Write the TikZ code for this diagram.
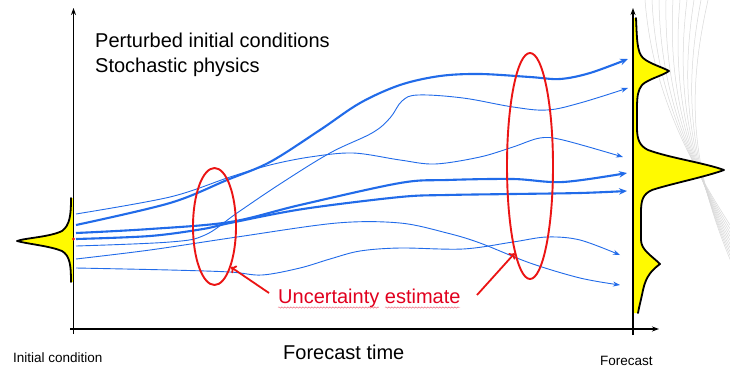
\documentclass[tikz,border=0pt]{standalone}
\usepackage{fontspec}
\setmainfont{Liberation Sans}
\usetikzlibrary{arrows.meta,shapes.geometric,decorations.pathmorphing}
\definecolor{trajblue}{RGB}{33,107,233}
\definecolor{ellred}{RGB}{235,20,20}
\definecolor{txtred}{RGB}{225,0,30}
\definecolor{pdfyellow}{RGB}{255,250,0}
\begin{document}
\begin{tikzpicture}[x=1pt,y=-1pt,
  axisline/.style={line width=1.7pt, -{Stealth[length=7pt,width=5pt]}},
  thintraj/.style={trajblue, line width=0.9pt, -{Stealth[length=7pt,width=5pt]}},
  thicktraj/.style={trajblue, line width=2.1pt, -{Stealth[length=8pt,width=6.5pt]}},
  pdfcurve/.style={line width=1.8pt, line join=round, line cap=round},
  uncell/.style={ellipse, draw=ellred, line width=1.9pt, inner sep=0pt},
  redarrow/.style={ellred, line width=1.8pt, -{To[length=5pt,width=9pt,line width=1.8pt]}},
  swoosh/.style={gray!30, line width=0.5pt},
  squiggle/.style={txtred!60, line width=0.45pt, decorate, decoration={snake, amplitude=0.7pt, segment length=3pt}}
]
\useasboundingbox (0,0) rectangle (730,383);
\fill[white] (0,0) rectangle (730,383);

% background swoosh (top right)
\foreach \i in {0,...,9}{
  \draw[swoosh] (645+7*\i,0) .. controls (652+4*\i,90) and (688,160) .. (732,228+4*\i);
}

% initial distribution
\fill[pdfyellow] (71,198) .. controls (71,215) and (70,225) .. (62,231)
  .. controls (50,237) and (25,238) .. (17,241)
  .. controls (28,244) and (50,246) .. (62,251)
  .. controls (70,256) and (71,265) .. (71,282) -- (73,282) -- (73,198) -- cycle;
\draw[pdfcurve] (71,198) .. controls (71,215) and (70,225) .. (62,231)
  .. controls (50,237) and (25,238) .. (17,241)
  .. controls (28,244) and (50,246) .. (62,251)
  .. controls (70,256) and (71,265) .. (71,282);

% forecast distribution
\fill[pdfyellow] (636,18) .. controls (637,40) and (637,52) .. (643,58)
  .. controls (650,64) and (662,67) .. (669,71)
  .. controls (662,76) and (648,79) .. (642,85)
  .. controls (638,90) and (637,96) .. (637,108)
  -- (637,128) .. controls (637,140) and (640,146) .. (648,150)
  .. controls (670,158) and (705,163) .. (724,170)
  .. controls (705,177) and (670,184) .. (652,190)
  .. controls (643,194) and (641,200) .. (641,212)
  -- (641,240) .. controls (641,250) and (652,256) .. (660,264)
  .. controls (652,270) and (646,276) .. (643,290)
  .. controls (641,300) and (639,307) .. (638,313)
  -- (633,313) -- (633,18) -- cycle;
\draw[pdfcurve] (636,18) .. controls (637,40) and (637,52) .. (643,58)
  .. controls (650,64) and (662,67) .. (669,71)
  .. controls (662,76) and (648,79) .. (642,85)
  .. controls (638,90) and (637,96) .. (637,108)
  -- (637,128) .. controls (637,140) and (640,146) .. (648,150)
  .. controls (670,158) and (705,163) .. (724,170)
  .. controls (705,177) and (670,184) .. (652,190)
  .. controls (643,194) and (641,200) .. (641,212)
  -- (641,240) .. controls (641,250) and (652,256) .. (660,264)
  .. controls (652,270) and (646,276) .. (643,290)
  .. controls (641,300) and (639,307) .. (638,313);

% axes
\coordinate (yl0) at (73.5,334);
\coordinate (yl1) at (73.5,8);
\coordinate (x0) at (70,329);
\coordinate (x1) at (659,329);
\coordinate (yr0) at (633,335);
\coordinate (yr1) at (633,8);
\draw[axisline] (yl0) -- (yl1);
\draw[axisline] (x0) -- (x1);
\draw[axisline] (yr0) -- (yr1);

% trajectories
\draw[thintraj] plot[smooth, tension=0.55] coordinates {(76,214) (170,197) (230,177) (270,165) (310,157) (353,153) (400,160) (435,164) (480,157) (513,147) (540,138) (563,140) (623,157)};
\draw[thicktraj] plot[smooth, tension=0.55] coordinates {(76,225) (170,203) (227,180) (270,162) (320,130) (360,103) (400,85) (440,76) (480,74) (530,77) (560,79) (590,73) (628,59)};
\draw[thicktraj] plot[smooth, tension=0.55] coordinates {(76,233) (150,229) (230,222) (300,205) (400,183) (447,180) (513,179) (563,182) (627,173)};
\draw[thicktraj] plot[smooth, tension=0.55] coordinates {(76,239) (150,236) (203,229) (230,223) (303,209) (400,197) (447,195) (513,194) (580,193) (627,191)};
\draw[thintraj] plot[smooth, tension=0.6] coordinates {(76,246) (170,242) (205,235) (237,213) (280,184) (330,153) (372,133) (390,118) (402,101) (418,95) (463,98) (513,107) (547,110) (580,103) (628,88)};
\draw[thintraj] plot[smooth, tension=0.55] coordinates {(76,259) (150,250) (237,237) (337,223) (400,223) (447,233) (480,243) (530,263) (580,278) (620,285)};
\draw[thintraj] plot[smooth, tension=0.55] coordinates {(76,268) (170,270) (230,272) (262,275) (300,268) (330,259) (360,251) (400,248) (463,249) (513,242) (547,237) (580,240) (620,255)};

% initial point
\fill[ellred] (73.5,239) circle (1.6pt);

% uncertainty ellipses
\node[uncell, minimum width=43pt, minimum height=117pt] (e1) at (214.5,226.5) {};
\node[uncell, minimum width=46pt, minimum height=226pt] (e2) at (530,166) {};

% labels
\node[anchor=base west, inner sep=0pt, font=\fontsize{20}{24}\selectfont] (pert) at (95,47) {Perturbed initial conditions};
\node[anchor=base west, inner sep=0pt, font=\fontsize{20}{24}\selectfont] (stoch) at (95,72) {Stochastic physics};
\node[anchor=base west, inner sep=0pt, text=txtred, font=\fontsize{20}{24}\selectfont] (unc) at (278,303) {Uncertainty estimate};
\node[anchor=base west, inner sep=0pt, font=\fontsize{13.5}{16}\selectfont] (ic) at (13,362) {Initial condition};
\node[anchor=base west, inner sep=0pt, font=\fontsize{20}{24}\selectfont] (ft) at (283,359) {Forecast time};
\node[anchor=base west, inner sep=0pt, font=\fontsize{13.5}{16}\selectfont] (fc) at (600,365) {Forecast};

% spell-check squiggles
\draw[squiggle] (278,307.5) -- (379,307.5);
\draw[squiggle] (385,307.5) -- (460,307.5);

% arrows to ellipses
\coordinate (a1s) at (269,293);
\coordinate (a2s) at (477,295);
\draw[redarrow] (a1s) -- (e1.-68);
\draw[redarrow] (a2s) -- (e2.-100);
\end{tikzpicture}
\end{document}
